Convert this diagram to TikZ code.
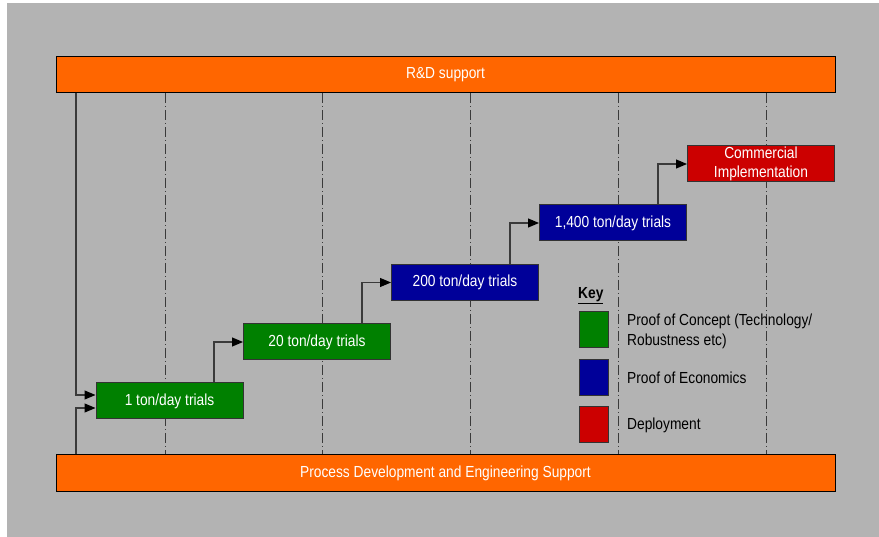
\documentclass[tikz,border=0pt]{standalone}
\usepackage{fontspec}
\setmainfont{Liberation Sans}[FakeStretch=0.86]
\usetikzlibrary{arrows.meta}
\definecolor{bggray}{HTML}{B3B3B3}
\definecolor{orng}{HTML}{FF6600}
\definecolor{grn}{HTML}{008000}
\definecolor{blu}{HTML}{000099}
\definecolor{rd}{HTML}{CC0000}
\definecolor{lin}{HTML}{3A3A3A}
\tikzset{
  bar/.style={draw=black, line width=1pt, fill=orng, minimum width=779pt, minimum height=36pt, inner sep=0pt, text=white, font=\fontsize{16}{19}\selectfont},
  stage/.style={draw=black!80, line width=1pt, minimum width=147pt, minimum height=36pt, inner sep=0pt, text=white, font=\fontsize{16}{19}\selectfont, align=center},
  keybox/.style={draw=black!80, line width=1pt, minimum width=29pt, minimum height=36pt, inner sep=0pt},
  keytext/.style={anchor=west, inner sep=0pt, font=\fontsize{16}{20}\selectfont, align=left},
  grid/.style={lin, line width=1pt, dash pattern=on 10pt off 3pt on 1pt off 3pt},
  conn/.style={lin, line width=1.2pt, -{Triangle[length=11pt,width=9pt,black]}}
}
\begin{document}
\begin{tikzpicture}[x=1pt,y=-1pt]
\useasboundingbox (0,0) rectangle (879,537);
\fill[white] (0,0) rectangle (879,537);
\fill[bggray] (7,3) rectangle (879,537);
% grid lines
\foreach \gx in {165,322,470,618,766}
  \draw[grid] (\gx,93) -- (\gx,455);
% bars
\node[bar] (top) at (445.5,75) {R\&D support};
\node[bar] (bot) at (445.5,473) {Process Development and Engineering Support};
% stages
\node[stage, fill=grn] (s1) at (169.5,401) {\raisebox{-1.5pt}{1 ton/day trials}};
\node[stage, fill=grn] (s2) at (317,342) {\raisebox{-1.5pt}{20 ton/day trials}};
\node[stage, fill=blu] (s3) at (465,282.5) {\raisebox{-1.5pt}{200 ton/day trials}};
\node[stage, fill=blu] (s4) at (613,223) {\raisebox{-1.5pt}{1,400 ton/day trials}};
\node[stage, fill=rd, font=\fontsize{16}{20}\selectfont] (s5) at (761,164) {Commercial\\[-1pt]Implementation};
% connectors
\draw[conn] (top.south -| 76,0) |- ([yshift=6pt]s1.west);
\draw[conn] (bot.north -| 76,0) |- ([yshift=-7pt]s1.west);
\draw[conn] ([xshift=44.5pt]s1.north) |- (s2.west);
\draw[conn] ([xshift=45pt]s2.north) |- (s3.west);
\draw[conn] ([xshift=45pt]s3.north) |- (s4.west);
\draw[conn] ([xshift=45pt]s4.north) |- (s5.west);
% key
\node[keytext, font=\fontsize{16}{19}\selectfont\bfseries] (key) at (578,296) {\underline{Key}};
\node[keybox, fill=grn] (k1) at (593.5,330) {};
\node[keybox, fill=blu] (k2) at (593.5,377.5) {};
\node[keybox, fill=rd] (k3) at (593.5,425) {};
\node[keytext] (t1) at (627,331.5) {Proof of Concept (Technology/\\Robustness etc)};
\node[keytext] (t2) at (627,378) {Proof of Economics};
\node[keytext] (t3) at (627,425) {Deployment};
\end{tikzpicture}
\end{document}
